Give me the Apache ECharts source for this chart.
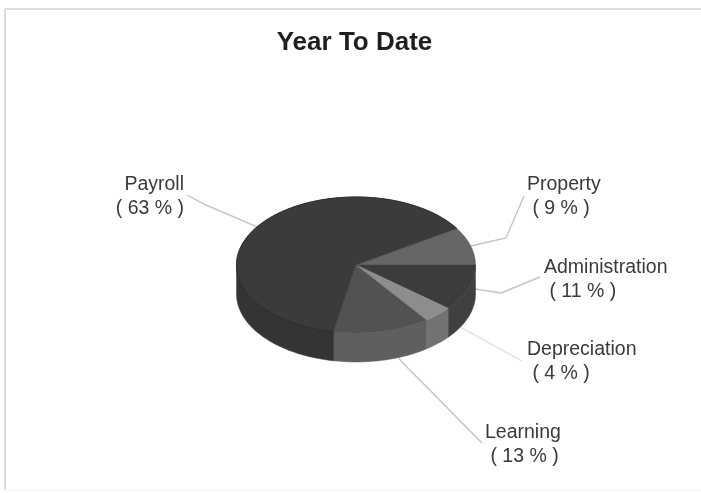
<!DOCTYPE html>
<html>
<head>
<meta charset="utf-8">
<style>html,body{margin:0;padding:0;background:#fff}#chart{width:701px;height:493px}</style>
<script src="https://cdn.jsdelivr.net/npm/echarts@6/dist/echarts.min.js"></script>
</head>
<body>
<div id="chart"></div>
<script>
// Expense shares, clockwise from the Property slice
const categories = ['Property', 'Administration', 'Depreciation', 'Learning', 'Payroll'];
const shares = [9, 11, 4, 13, 63];
const chartTitle = 'Year To Date';

// Tilted disc geometry and drawing styles
const disc = { cx: 356, cy: 265, rx: 119.5, ry: 68, depth: 29, startDeg: -32.4 };
const topColors = ['#666666', '#3c3c3c', '#8d8d8d', '#525252', '#3b3b3b'];
const wallColors = ['#555555', '#404040', '#727272', '#5f5f5f', '#343434'];
const labelFont = '19.5px "Liberation Sans", Arial, sans-serif';
const labelStyle = [
  { x: 527, y: 173, align: 'left', bend: [506, 238], end: [524, 196], line: '#c4c4c4' },
  { x: 544, y: 256, align: 'left', bend: [501, 293], end: [540, 277], line: '#c4c4c4' },
  { x: 527, y: 338, align: 'left', bend: [500, 349], end: [522, 361], line: '#dedede' },
  { x: 485, y: 421, align: 'left', bend: [401, 361], end: [482, 443], line: '#c4c4c4' },
  { x: 184, y: 173, align: 'right', bend: [206, 205], end: [187, 195], line: '#c4c4c4' }
];

const total = shares.reduce((a, b) => a + b, 0);

// Slice angles in degrees, measured clockwise from the positive x axis
function sliceAngles(index) {
  let start = disc.startDeg;
  for (let i = 0; i < index; i++) start += shares[i] / total * 360;
  return [start, start + shares[index] / total * 360];
}

function rimPoint(deg, dy) {
  const r = deg * Math.PI / 180;
  return [disc.cx + disc.rx * Math.cos(r), disc.cy + disc.ry * Math.sin(r) + (dy || 0)];
}

function arcPoints(from, to, dy) {
  const pts = [];
  const steps = Math.max(2, Math.ceil(Math.abs(to - from) / 1.5));
  for (let i = 0; i <= steps; i++) pts.push(rimPoint(from + (to - from) * i / steps, dy));
  return pts;
}

function renderSlice(params, api) {
  const i = params.dataIndex;
  const [a0, a1] = sliceAngles(i);
  const children = [];
  // The outer wall only shows along the front half of the rim
  for (const turn of [0, 360]) {
    const from = Math.max(a0, turn);
    const to = Math.min(a1, turn + 180);
    if (to > from) {
      const wall = arcPoints(from, to, 0).concat(arcPoints(to, from, disc.depth));
      children.push({
        type: 'polygon',
        shape: { points: wall },
        style: { fill: wallColors[i], stroke: wallColors[i], lineWidth: 0.5 }
      });
    }
  }
  children.push({
    type: 'polygon',
    shape: { points: [[disc.cx, disc.cy]].concat(arcPoints(a0, a1, 0)) },
    style: { fill: topColors[i], stroke: topColors[i], lineWidth: 0.5 }
  });
  children.push({
    type: 'polyline',
    shape: { points: arcPoints(a0, a1, 0) },
    style: { fill: null, stroke: '#2a2a2a', lineWidth: a0 > 180 || a1 > 200 ? 1 : 0 }
  });
  return { type: 'group', children };
}

function renderCallout(params, api) {
  const i = params.dataIndex;
  const [a0, a1] = sliceAngles(i);
  const spot = labelStyle[i];
  const start = rimPoint((a0 + a1) / 2, 0);
  return {
    type: 'group',
    children: [
      {
        type: 'polyline',
        shape: { points: [start, spot.bend, spot.end] },
        style: { fill: null, stroke: spot.line, lineWidth: 1.4 }
      },
      {
        type: 'text',
        style: {
          x: spot.x,
          y: spot.y,
          text: categories[i] + '\n' + (spot.align === 'left' ? ' ' : '') + '( ' + api.value(0) + ' % )',
          font: labelFont,
          fill: '#3a3a3a',
          align: spot.align,
          verticalAlign: 'top',
          lineHeight: 24
        }
      }
    ]
  };
}

const chart = echarts.init(document.getElementById('chart'), null, { renderer: 'canvas' });
chart.setOption({
  animation: false,
  backgroundColor: '#ffffff',
  title: {
    text: chartTitle,
    left: 354.5,
    textAlign: 'center',
    top: 30,
    textStyle: { fontFamily: '"Liberation Sans", Arial, sans-serif', fontSize: 26, fontWeight: 'bold', color: '#1f1f1f' },
    padding: 0
  },
  graphic: [
    { type: 'line', silent: true, shape: { x1: 5, y1: 9, x2: 701, y2: 9 }, style: { stroke: '#d2d2d2', lineWidth: 1.5 } },
    { type: 'line', silent: true, shape: { x1: 5, y1: 9, x2: 5, y2: 490 }, style: { stroke: '#cfcfcf', lineWidth: 1.5 } },
    { type: 'line', silent: true, shape: { x1: 5, y1: 490, x2: 701, y2: 490 }, style: { stroke: '#efefef', lineWidth: 1 } }
  ],
  series: [
    { type: 'custom', coordinateSystem: 'none', z: 2, data: shares.map(v => [v]), renderItem: renderCallout, silent: true },
    { type: 'custom', coordinateSystem: 'none', z: 3, data: shares.map(v => [v]), renderItem: renderSlice, silent: true }
  ]
});
</script>
</body>
</html>
